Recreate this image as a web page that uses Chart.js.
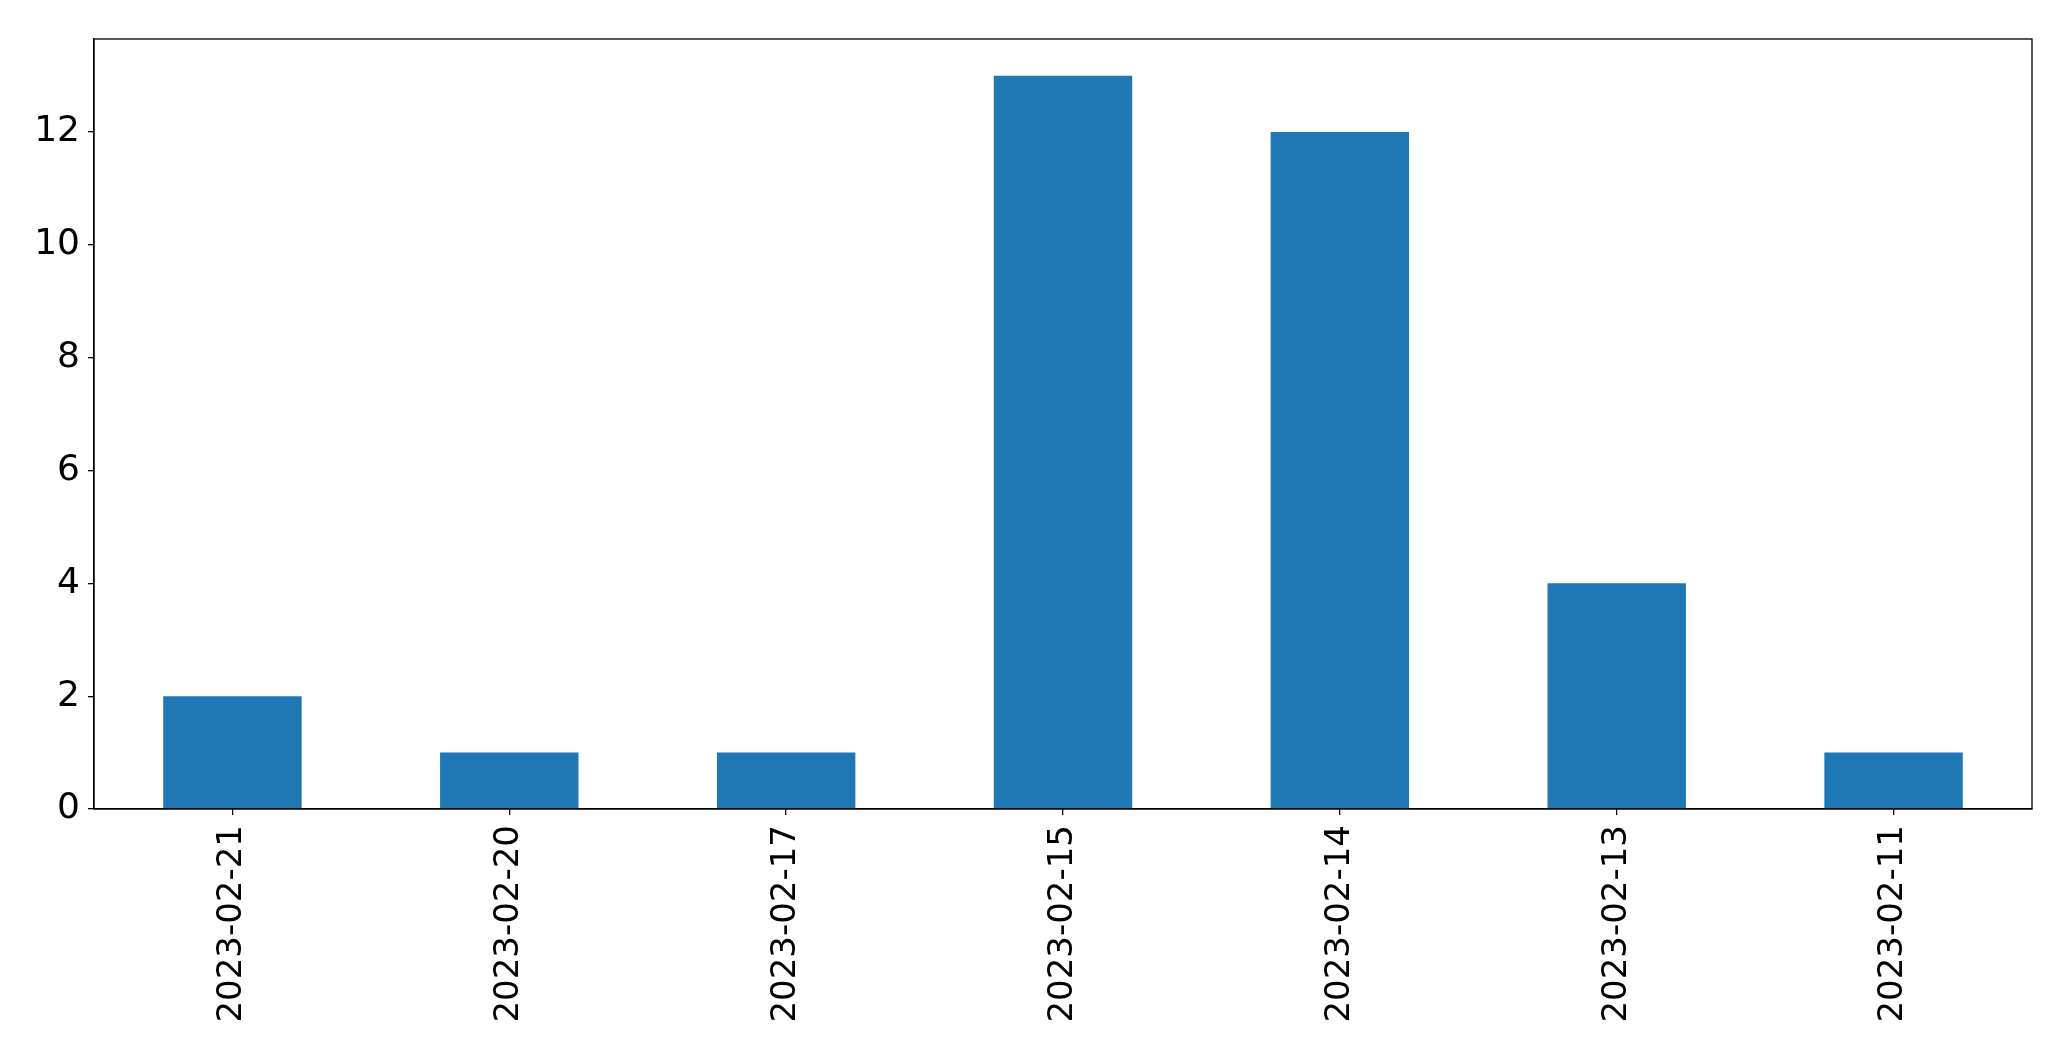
<!DOCTYPE html>
<html>
<head>
<meta charset="utf-8">
<script src="https://cdn.jsdelivr.net/npm/chart.js@4.4.0/dist/chart.umd.min.js"></script>
<style>
  html, body { margin: 0; padding: 0; background: #fff; }
  #wrap { width: 2071px; height: 1061px; }
</style>
</head>
<body>
<div id="wrap"><canvas id="barchartdiv" width="2071" height="1061"></canvas></div>
<script>
var categories = ["2023-02-21", "2023-02-20", "2023-02-17", "2023-02-15", "2023-02-14", "2023-02-13", "2023-02-11"];
var counts = [2, 1, 1, 13, 12, 4, 1];
var yTicks = [0, 2, 4, 6, 8, 10, 12];

// full box around the plot area, like matplotlib spines
var frameBox = {
    id: "frameBox",
    afterDraw: function (chart) {
        var a = chart.chartArea, ctx = chart.ctx;
        ctx.save();
        ctx.strokeStyle = "#000";
        ctx.lineWidth = 1.3;
        ctx.strokeRect(a.left, a.top, a.right - a.left, a.bottom - a.top);
        ctx.restore();
    }
};

Chart.defaults.font.family = "'DejaVu Sans', sans-serif";
Chart.defaults.color = "#000";

new Chart("barchartdiv", {
    type: "bar",
    data: {
        labels: categories,
        datasets: [{
            backgroundColor: "#1f77b4",
            data: counts,
            barPercentage: 0.5,
            categoryPercentage: 1.0
        }]
    },
    options: {
        responsive: false,
        animation: false,
        layout: { padding: { top: 39, right: 39, left: 0, bottom: 0 } },
        plugins: {
            legend: { display: false },
            tooltip: { enabled: false }
        },
        scales: {
            x: {
                offset: true,
                grid: { display: true, offset: false, drawOnChartArea: false, drawTicks: true, tickLength: 6, color: "#000", lineWidth: 1.3 },
                border: { display: true, color: "#000", width: 1.3 },
                ticks: { minRotation: 90, maxRotation: 90, autoSkip: false, padding: 10, font: { size: 34 } },
                afterFit: function (s) { s.height = 252; }
            },
            y: {
                min: 0,
                max: 13.65,
                grid: { display: true, drawOnChartArea: false, drawTicks: true, tickLength: 6, color: "#000", lineWidth: 1.3 },
                border: { display: true, color: "#000", width: 1.3 },
                ticks: { stepSize: 2, includeBounds: false, padding: 8, font: { size: 36 } },
                afterBuildTicks: function (s) { s.ticks = yTicks.map(function (v) { return { value: v }; }); },
                afterFit: function (s) { s.width = 94; }
            }
        }
    },
    plugins: [frameBox]
});
</script>
</body>
</html>
